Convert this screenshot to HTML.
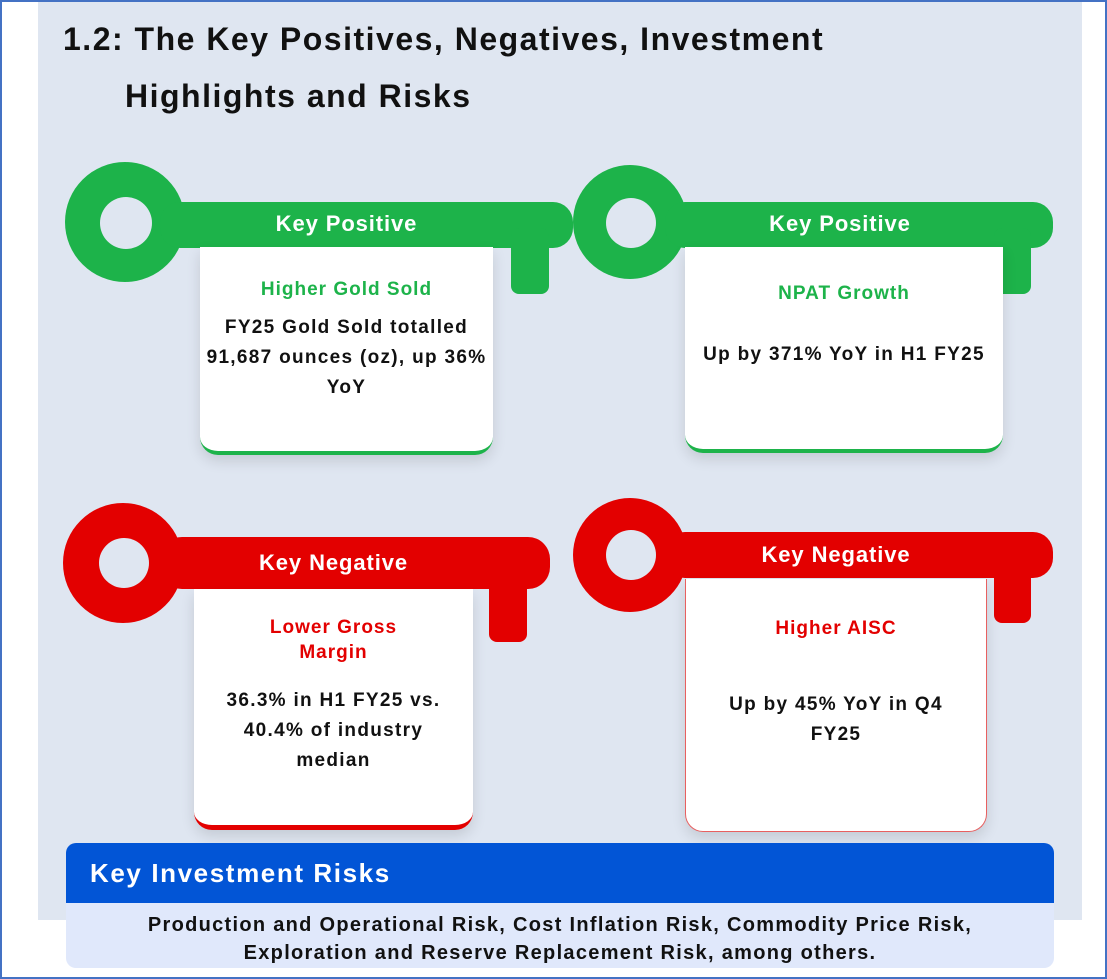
<!DOCTYPE html>
<html><head><meta charset="utf-8"><style>
body{margin:0;width:1107px;height:979px;background:#fff;position:relative;overflow:hidden;font-family:"Liberation Sans",sans-serif;font-weight:bold}
.frame{position:absolute;left:0;top:0;width:1103px;height:975px;border:2px solid #4472c4}
.panel{position:absolute;left:38px;top:2px;width:1044px;height:918px;background:#dfe6f1}
.t{position:absolute;font-size:32px;color:#111;letter-spacing:1.5px}
.card{position:absolute;background:#fff;border-radius:0 0 18px 18px;box-shadow:0 6px 14px rgba(0,0,0,0.12);text-align:center}
.lab{position:absolute;color:#fff;font-size:22px;letter-spacing:0.9px;text-align:center}
.h{font-size:19px;letter-spacing:1px}
.b{font-size:19px;color:#111;line-height:30px;letter-spacing:1.3px;white-space:nowrap}
</style></head><body>
<div class="panel"></div>
<div class="t" style="left:63px;top:21px">1.2: The Key Positives, Negatives, Investment</div>
<div class="t" style="left:125px;top:78px">Highlights and Risks</div>
<svg width="1107" height="979" style="position:absolute;left:0;top:0">
 <g fill="#1db34a">
  <circle cx="125" cy="222" r="60"/>
  <rect x="160" y="202" width="413" height="46" rx="20"/>
  <rect x="511" y="228" width="38" height="66" rx="8"/>
  <circle cx="630" cy="222" r="57"/>
  <rect x="665" y="202" width="388" height="46" rx="20"/>
  <rect x="994" y="228" width="37" height="66" rx="8"/>
 </g>
 <g fill="#e30000">
  <circle cx="123" cy="563" r="60"/>
  <rect x="160" y="537" width="390" height="52" rx="22"/>
  <rect x="489" y="565" width="38" height="77" rx="8"/>
  <circle cx="630" cy="555" r="57"/>
  <rect x="665" y="532" width="388" height="46" rx="20"/>
  <rect x="994" y="555" width="37" height="68" rx="8"/>
 </g>
 <g fill="#dfe6f1">
  <circle cx="126" cy="223" r="26"/>
  <circle cx="631" cy="223" r="25"/>
  <circle cx="124" cy="563" r="25"/>
  <circle cx="631" cy="555" r="25"/>
 </g>
</svg>
<div class="lab" style="left:200px;top:211px;width:293px">Key Positive</div>
<div class="lab" style="left:685px;top:211px;width:310px">Key Positive</div>
<div class="lab" style="left:194px;top:550px;width:279px">Key Negative</div>
<div class="lab" style="left:685px;top:542px;width:302px">Key Negative</div>

<div class="card" style="left:200px;top:247px;width:293px;height:204px;border-bottom:4px solid #1db34a">
 <div class="h" style="color:#1db34a;margin-top:32px">Higher Gold Sold</div>
 <div class="b" style="margin-top:12px">FY25 Gold Sold totalled<br>91,687 ounces (oz), up 36%<br>YoY</div>
</div>
<div class="card" style="left:685px;top:247px;width:318px;height:202px;border-bottom:4px solid #1db34a">
 <div class="h" style="color:#1db34a;margin-top:36px">NPAT Growth</div>
 <div class="b" style="margin-top:35px">Up by 371% YoY in H1 FY25</div>
</div>
<div class="card" style="left:194px;top:589px;width:279px;height:236px;border-bottom:5px solid #e30000">
 <div class="h" style="color:#e30000;margin-top:26px;line-height:25px">Lower Gross<br>Margin</div>
 <div class="b" style="margin-top:21px">36.3% in H1 FY25 vs.<br>40.4% of industry<br>median</div>
</div>
<div class="card" style="left:685px;top:579px;width:300px;height:252px;border:1px solid #e86060;border-top:none">
 <div class="h" style="color:#e30000;margin-top:39px">Higher AISC</div>
 <div class="b" style="margin-top:50px">Up by 45% YoY in Q4<br>FY25</div>
</div>

<div style="position:absolute;left:66px;top:843px;width:988px;height:60px;background:#0255d6;border-radius:10px 10px 0 0"></div>
<div style="position:absolute;left:90px;top:858px;color:#fff;font-size:26px;letter-spacing:1.6px">Key Investment Risks</div>
<div style="position:absolute;left:66px;top:903px;width:988px;height:65px;background:#e0e8fb;border-radius:0 0 10px 10px;text-align:center;font-size:20px;letter-spacing:1.3px;color:#111;line-height:28px;padding-top:8px;box-sizing:border-box;white-space:nowrap">Production and Operational Risk, Cost Inflation Risk, Commodity Price Risk,<br>Exploration and Reserve Replacement Risk, among others.</div>
<div class="frame"></div>
</body></html>
